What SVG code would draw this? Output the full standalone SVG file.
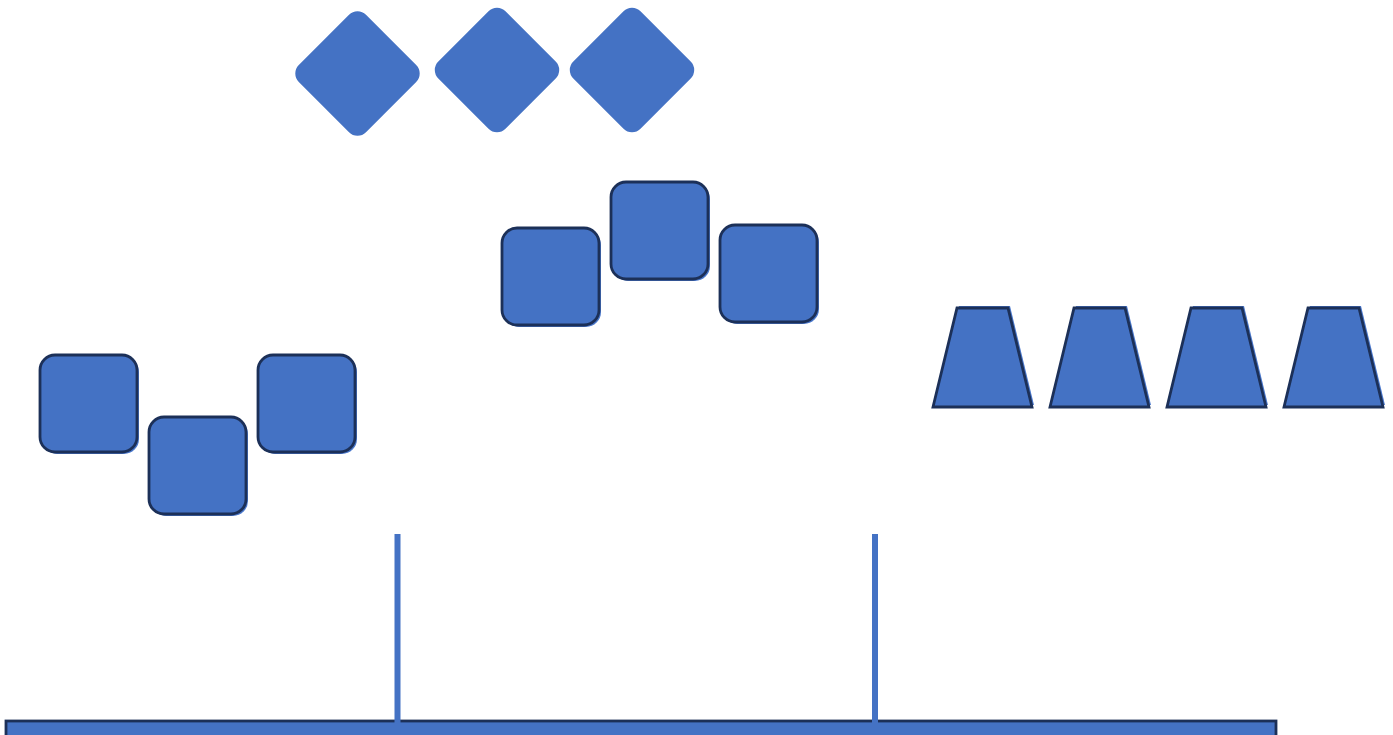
<svg xmlns="http://www.w3.org/2000/svg" width="1393" height="735" viewBox="0 0 1393 735">
<style>
.f{fill:#4472c4}
.sh{fill:#4a78cc}
.s{fill:#4472c4;stroke:#1c3058;stroke-width:2.8}
.ln{stroke:#4472c4;stroke-width:6;fill:none}
</style>
<defs>
<rect id="rr" x="0" y="0" width="97" height="97" rx="15"/>
<rect id="dm" x="-47.5" y="-47.5" width="95" height="95" rx="12"/>
<path id="tz" d="M24,0 L75,0 L99,99 L0,99 Z"/>
</defs>
<rect width="1393" height="735" fill="#fff"/>
<g id="diamond1" class="f"><use href="#dm" transform="translate(357.5,73.5) rotate(45)"/></g>
<g id="diamond2" class="f"><use href="#dm" transform="translate(497,70) rotate(45)"/></g>
<g id="diamond3" class="f"><use href="#dm" transform="translate(632,70) rotate(45)"/></g>

<g id="sq1"><use href="#rr" class="sh" x="42" y="357"/><use href="#rr" class="s" x="40" y="355"/></g>
<g id="sq2"><use href="#rr" class="sh" x="151" y="419"/><use href="#rr" class="s" x="149" y="417"/></g>
<g id="sq3"><use href="#rr" class="sh" x="260" y="357"/><use href="#rr" class="s" x="258" y="355"/></g>

<g id="sq4"><use href="#rr" class="sh" x="504" y="230"/><use href="#rr" class="s" x="502" y="228"/></g>
<g id="sq5"><use href="#rr" class="sh" x="613" y="184"/><use href="#rr" class="s" x="611" y="182"/></g>
<g id="sq6"><use href="#rr" class="sh" x="722" y="227"/><use href="#rr" class="s" x="720" y="225"/></g>

<g id="tz1"><use href="#tz" class="sh" x="935" y="306"/><use href="#tz" class="s" x="933" y="308"/></g>
<g id="tz2"><use href="#tz" class="sh" x="1052" y="306"/><use href="#tz" class="s" x="1050" y="308"/></g>
<g id="tz3"><use href="#tz" class="sh" x="1169" y="306"/><use href="#tz" class="s" x="1167" y="308"/></g>
<g id="tz4"><use href="#tz" class="sh" x="1286" y="306"/><use href="#tz" class="s" x="1284" y="308"/></g>

<g id="base"><rect class="s" x="6" y="721" width="1270" height="30"/></g>
<g id="connectors">
<line class="ln" x1="397.5" y1="534" x2="397.5" y2="723"/>
<line class="ln" x1="875" y1="534" x2="875" y2="723"/>
</g>
</svg>
